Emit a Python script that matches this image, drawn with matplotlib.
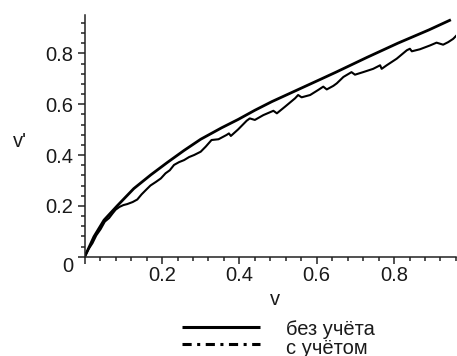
import matplotlib
matplotlib.use("Agg")
import matplotlib.pyplot as plt
from matplotlib.lines import Line2D
from matplotlib.ticker import MultipleLocator, FuncFormatter

# Smooth curve: v' without the correction
v_plain = [0.0, 0.024, 0.050, 0.084, 0.127, 0.171, 0.214, 0.257, 0.300, 0.354,
           0.397, 0.440, 0.484, 0.527, 0.570, 0.613, 0.650, 0.690, 0.730, 0.770,
           0.810, 0.850, 0.890, 0.947]
vp_plain = [0.0, 0.079, 0.144, 0.200, 0.268, 0.322, 0.371, 0.418, 0.462, 0.507,
            0.540, 0.576, 0.610, 0.640, 0.670, 0.700, 0.726, 0.755, 0.784, 0.812,
            0.840, 0.866, 0.892, 0.932]

# Jagged curve: v' with the correction
v_corr = [0.0, 0.010, 0.020, 0.030, 0.041, 0.052, 0.063, 0.072, 0.080, 0.090,
          0.100, 0.110, 0.124, 0.136, 0.147, 0.158, 0.170, 0.184, 0.197, 0.209,
          0.220, 0.231, 0.244, 0.257, 0.270, 0.283, 0.300, 0.313, 0.328, 0.346,
          0.367, 0.373, 0.378, 0.397, 0.419, 0.427, 0.440, 0.462, 0.488, 0.497,
          0.518, 0.544, 0.552, 0.561, 0.583, 0.604, 0.617, 0.626, 0.643, 0.652,
          0.669, 0.690, 0.699, 0.720, 0.746, 0.764, 0.768, 0.781, 0.807, 0.833,
          0.841, 0.846, 0.867, 0.893, 0.910, 0.927, 0.940, 0.953, 0.962]
vp_corr = [0.0, 0.030, 0.053, 0.084, 0.108, 0.138, 0.152, 0.170, 0.185, 0.196,
           0.203, 0.207, 0.215, 0.225, 0.245, 0.262, 0.280, 0.294, 0.308, 0.328,
           0.340, 0.361, 0.372, 0.380, 0.392, 0.400, 0.413, 0.433, 0.459, 0.462,
           0.479, 0.485, 0.475, 0.501, 0.535, 0.544, 0.538, 0.557, 0.574, 0.564,
           0.590, 0.623, 0.636, 0.627, 0.636, 0.656, 0.669, 0.658, 0.672, 0.682,
           0.707, 0.726, 0.716, 0.726, 0.739, 0.753, 0.739, 0.753, 0.779, 0.812,
           0.818, 0.808, 0.816, 0.831, 0.842, 0.834, 0.844, 0.857, 0.871]

legend_labels = ["без учёта", "с учётом"]
x_label = "v"
y_label = "v'"

plt.rcParams["font.family"] = ["Liberation Sans", "DejaVu Sans"]
FS = 14.5
TXT = "#1a1a1a"

W, H = 457, 356
fig = plt.figure(figsize=(W / 100, H / 100), dpi=100)
ax = fig.add_axes([84.7 / W, 99.3 / H, 371.2 / W, 241.5 / H])

ax.plot(v_plain, vp_plain, color="black", lw=2.0, solid_capstyle="butt")
ax.plot(v_corr, vp_corr, color="black", lw=1.5)

ax.set_xlim(0, 0.96)
ax.set_ylim(0, 0.95)

for side in ("top", "right"):
    ax.spines[side].set_visible(False)
for side in ("left", "bottom"):
    ax.spines[side].set_linewidth(1.1)
    ax.spines[side].set_color("#222222")

ax.xaxis.set_major_locator(MultipleLocator(0.2))
ax.yaxis.set_major_locator(MultipleLocator(0.2))
ax.xaxis.set_minor_locator(MultipleLocator(0.04))
ax.yaxis.set_minor_locator(MultipleLocator(0.04))
fmt = FuncFormatter(lambda x, pos: "" if abs(x) < 1e-9 else f"{x:.1f}")
ax.xaxis.set_major_formatter(fmt)
ax.yaxis.set_major_formatter(fmt)
ax.tick_params(axis="both", which="major", direction="out", length=5,
               width=1.1, color="#222222", labelsize=FS, labelcolor=TXT)
ax.tick_params(axis="both", which="minor", direction="out", length=3,
               width=1.1, color="#222222")
ax.tick_params(axis="x", which="major", pad=2)
ax.tick_params(axis="y", which="major", pad=3.4)

# origin label
ax.annotate("0", xy=(0, 0), xycoords="data", xytext=(-11.7, -10),
            textcoords="offset pixels", ha="right", va="center",
            fontsize=FS, color=TXT)

ax.set_xlabel(x_label, fontsize=FS, color=TXT, va="baseline")
ax.xaxis.set_label_coords(0.514, -0.2)
ax.set_ylabel(y_label, fontsize=FS, color=TXT, rotation=0,
              ha="center", va="baseline")
ax.yaxis.set_label_coords(-0.174, 0.454)

# legend below the plot
def fx(px):
    return px / W

def fy(py):
    return 1 - py / H

fig.add_artist(Line2D([fx(182), fx(260)], [fy(326.7), fy(326.7)],
                      transform=fig.transFigure, color="black", lw=2.2,
                      solid_capstyle="butt"))
fig.add_artist(Line2D([fx(182), fx(260)], [fy(344), fy(344)],
                      transform=fig.transFigure, color="black", lw=2.2,
                      linestyle=(0, (3.0, 1.8, 1.0, 1.8)),
                      dash_capstyle="butt"))
fig.text(fx(286), fy(335), legend_labels[0], fontsize=FS, color=TXT,
         ha="left", va="baseline")
fig.text(fx(286), fy(353.5), legend_labels[1], fontsize=FS, color=TXT,
         ha="left", va="baseline")

fig.savefig("out.png", dpi=100)
